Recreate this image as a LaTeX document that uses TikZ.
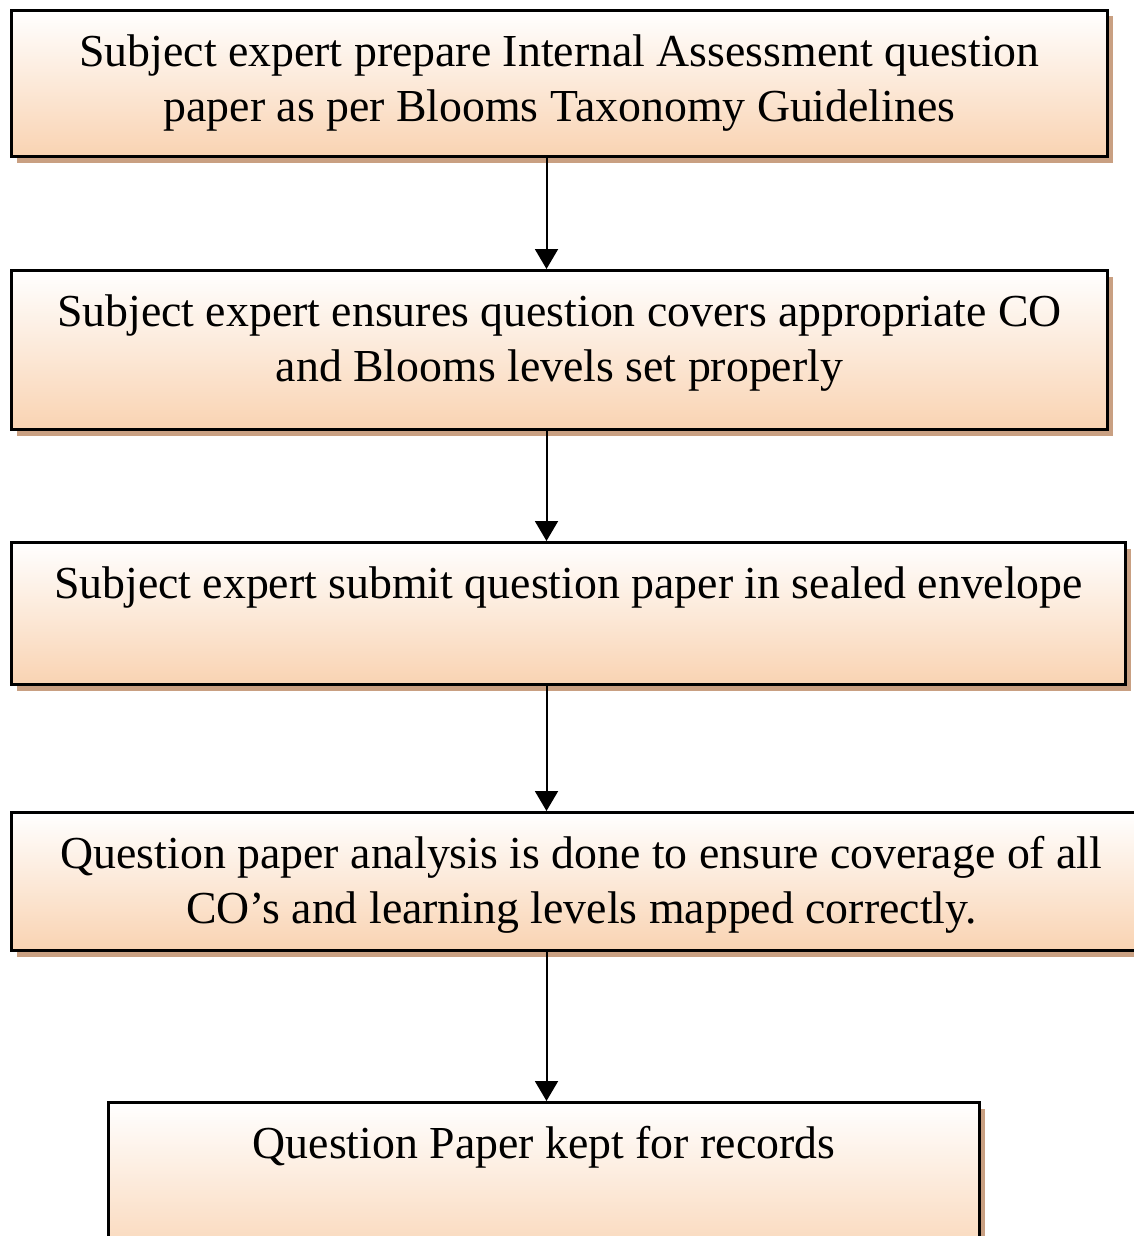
\documentclass[tikz,border=0pt]{standalone}
\usepackage{fontspec}
\setmainfont{Liberation Serif}
\usetikzlibrary{shadows,arrows.meta}
\definecolor{peach}{RGB}{249,211,178}
\definecolor{shadowc}{RGB}{201,160,130}
\newcommand{\boxtext}[3]{\parbox[c][#2pt][t]{#1pt}{\centering\vspace*{17.5pt}#3}}
\begin{document}
\begin{tikzpicture}[x=1pt,y=-1pt,
  flowbox/.style={draw=black,line width=3pt,rectangle,inner sep=0pt,anchor=north west,
    top color=white,bottom color=peach,
    drop shadow={shadow xshift=5pt,shadow yshift=-6pt,fill=shadowc,opacity=1},
    font=\fontsize{45.8}{55}\selectfont},
  arr/.style={line width=2pt,-{Triangle[length=20pt,width=23pt]}}]
\useasboundingbox (0,0) rectangle (1133,1236);
\node[flowbox] (b1) at (10,9) {\boxtext{1096}{146}{\strut Subject expert prepare Internal Assessment question\\\strut paper as per Blooms Taxonomy Guidelines}};
\node[flowbox] (b2) at (10,269) {\boxtext{1096}{159}{\strut Subject expert ensures question covers appropriate CO\\\strut and Blooms levels set properly}};
\node[flowbox] (b3) at (10,541) {\boxtext{1114}{142}{\strut Subject expert submit question paper in sealed envelope}};
\node[flowbox] (b4) at (10,811) {\boxtext{1140}{138}{\strut Question paper analysis is done to ensure coverage of all\\\strut CO’s and learning levels mapped correctly.}};
\node[flowbox] (b5) at (107,1101) {\boxtext{871}{170}{\strut Question Paper kept for records}};
\coordinate (ax) at (546.5,0);
\draw[arr] (b1.south -| ax) -- (b2.north -| ax);
\draw[arr] (b2.south -| ax) -- (b3.north -| ax);
\draw[arr] (b3.south -| ax) -- (b4.north -| ax);
\draw[arr] (b4.south -| ax) -- (b5.north -| ax);
\end{tikzpicture}
\end{document}
